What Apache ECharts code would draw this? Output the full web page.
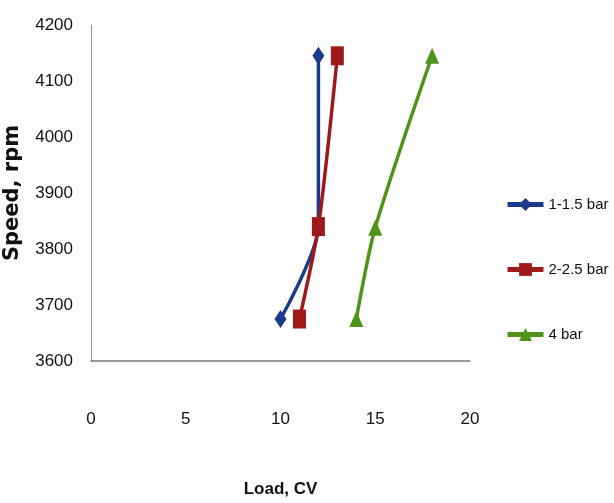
<!DOCTYPE html>
<html>
<head>
<meta charset="utf-8">
<script src="https://cdn.jsdelivr.net/npm/echarts@6/dist/echarts.min.js"></script>
<style>
  html, body { margin: 0; padding: 0; background: #fff; }
  #chart { width: 614px; height: 503px; }
</style>
</head>
<body>
<div id="chart"></div>
<script>
  // values: [load CV, speed rpm]
  const seriesNames = ['1-1.5 bar', '2-2.5 bar', '4 bar']
  const low = [[10, 3675], [12, 3840], [12, 4145]]
  const mid = [[11, 3675], [12, 3840], [13, 4145]]
  const high = [[14, 3675], [15, 3838], [18, 4145]]
  const colors = ['#1c3a8c', '#9e1a1a', '#4f9418']
  const symbols = ['diamond', 'rect', 'triangle']
  const symbolSizes = [[12, 18], [13, 19], [14, 16]]

  const font = '"Liberation Sans", Arial, sans-serif'
  let chart = echarts.init(document.getElementById('chart'))

  let series = [low, mid, high].map((data, i) => ({
    name: seriesNames[i],
    type: 'line',
    data: data,
    smooth: 0.25,
    symbol: symbols[i],
    symbolSize: symbolSizes[i],
    lineStyle: { width: 3.5, color: colors[i] },
    itemStyle: { color: colors[i] },
    z: 2 + (i === 1 ? 1 : 0)
  }))

  let option = {
    animation: false,
    textStyle: { fontFamily: font },
    grid: { left: 91, right: 144, top: 25, bottom: 142, outerBoundsMode: 'none' },
    legend: {
      orient: 'vertical',
      left: 505,
      top: 197,
      padding: 0,
      itemGap: 50,
      itemWidth: 36,
      itemHeight: 16,
      lineStyle: { width: 5 },
      textStyle: { fontSize: 15, color: '#111', fontFamily: font },
      data: seriesNames
    },
    xAxis: {
      type: 'value',
      min: 0,
      max: 20,
      interval: 5,
      name: 'Load, CV',
      nameLocation: 'middle',
      nameGap: 120,
      nameTextStyle: { fontSize: 17, fontWeight: 'bold', color: '#111', fontFamily: font },
      axisLine: { show: true, lineStyle: { color: '#777', width: 1.5 } },
      axisTick: { show: false },
      splitLine: { show: false },
      axisLabel: { fontSize: 17, color: '#111', margin: 50, fontFamily: font }
    },
    yAxis: {
      type: 'value',
      min: 3600,
      max: 4200,
      interval: 100,
      name: 'Speed, rpm',
      nameLocation: 'middle',
      nameRotate: 90,
      nameGap: 68,
      nameTextStyle: { fontSize: 21, fontWeight: 'bold', color: '#111', fontFamily: 'Verdana, "DejaVu Sans", sans-serif' },
      axisLine: { show: true, lineStyle: { color: '#999', width: 1 } },
      axisTick: { show: false },
      splitLine: { show: false },
      axisLabel: { fontSize: 17, color: '#111', margin: 18, fontFamily: font, formatter: v => String(v) }
    },
    series: series
  }
  chart.setOption(option)
</script>
</body>
</html>
